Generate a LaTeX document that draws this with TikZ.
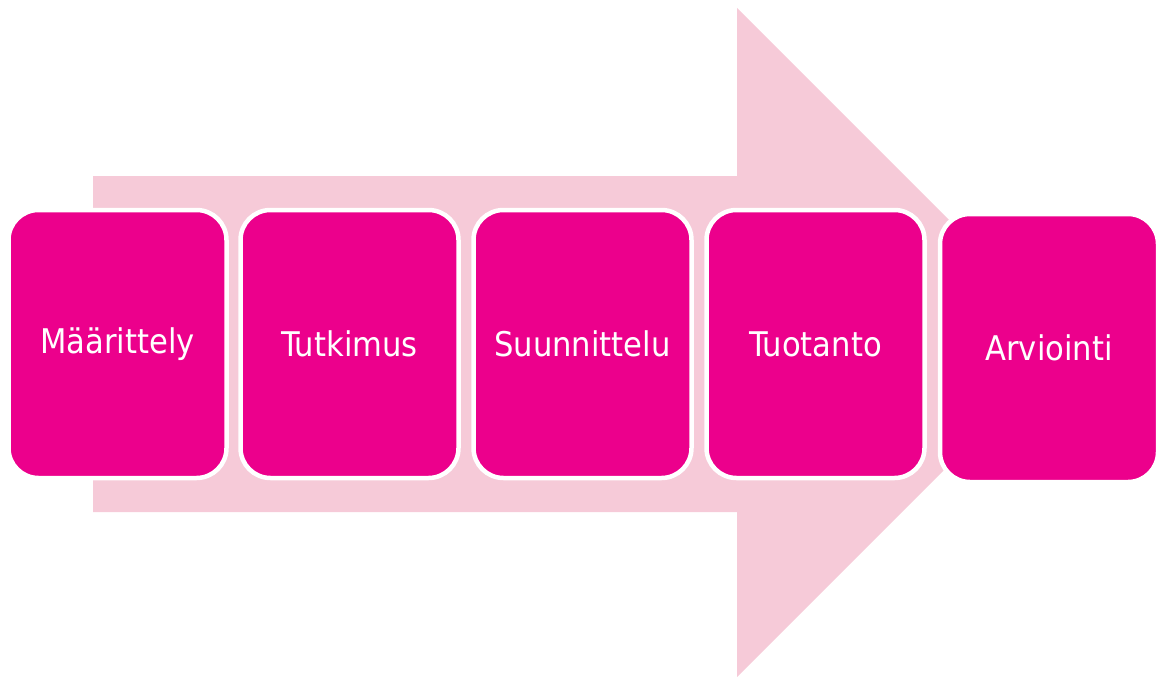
\documentclass[tikz,border=0pt]{standalone}
\usepackage{fontspec}
\setmainfont{DejaVu Sans Condensed}
\definecolor{stagepink}{HTML}{EC008C}
\definecolor{arrowpink}{HTML}{F6CAD8}
\tikzset{
  stage/.style={rectangle, rounded corners=30pt, fill=stagepink, draw=white,
    line width=4.5pt, minimum width=218pt, minimum height=268pt,
    text=white, font=\fontsize{34}{40}\selectfont, inner sep=0pt},
}
\begin{document}
\begin{tikzpicture}[x=1pt,y=-1pt]
  \useasboundingbox (0,0) rectangle (1162,677);
  % big arrow behind the stages
  \fill[arrowpink] (93,176) -- (737,176) -- (737,8) -- (1071.5,342.5)
    -- (737,677) -- (737,512) -- (93,512) -- cycle;
  % stages
  \node[stage] (maar) at (117.5,344) {Määrittely};
  \node[stage] (tutk) at (349.5,344) {Tutkimus};
  \node[stage] (suun) at (582.5,344) {Suunnittelu};
  \node[stage] (tuot) at (815.5,344) {Tuotanto};
  \node[stage] (arvi) at (1049,348) {Arviointi};
\end{tikzpicture}
\end{document}
